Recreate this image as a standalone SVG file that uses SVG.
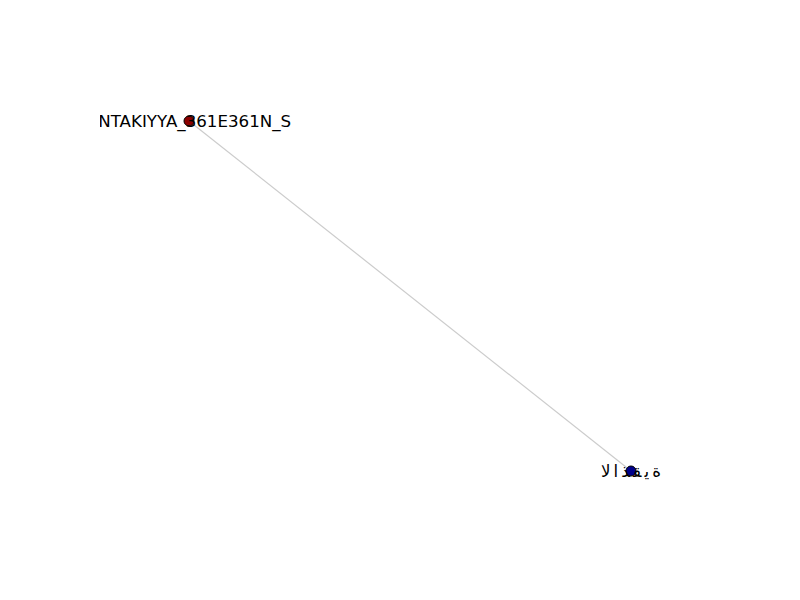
<svg xmlns="http://www.w3.org/2000/svg" width="800" height="600" viewBox="0 0 800 600">
  <style>
    .edge { stroke: #cccccc; stroke-width: 1.2; fill: none; }
    .node { stroke: #000000; stroke-width: 1; }
    .label { font-family: "DejaVu Sans", sans-serif; font-size: 16.67px; fill: #000000; text-anchor: middle; dominant-baseline: central; }
  </style>
  <defs>
    <clipPath id="axes">
      <rect x="100" y="72" width="620" height="462"/>
    </clipPath>
  </defs>
  <rect x="0" y="0" width="800" height="600" fill="#ffffff"/>
  <g id="connectors">
    <line class="edge" x1="189" y1="121" x2="631" y2="471"/>
  </g>
  <g id="node-antakiyya">
    <circle class="node" cx="189" cy="121" r="5" fill="#8b0000"/>
  </g>
  <g id="node-latakia">
    <circle class="node" cx="631" cy="471" r="5" fill="#00008b"/>
  </g>
  <g id="labels" clip-path="url(#axes)">
    <text class="label" x="189" y="121">ANTAKIYYA_361E361N_S</text>
    <text class="label" x="631" y="471" direction="ltr" unicode-bidi="bidi-override" textLength="60" lengthAdjust="spacing">الاذقية</text>
  </g>
</svg>
